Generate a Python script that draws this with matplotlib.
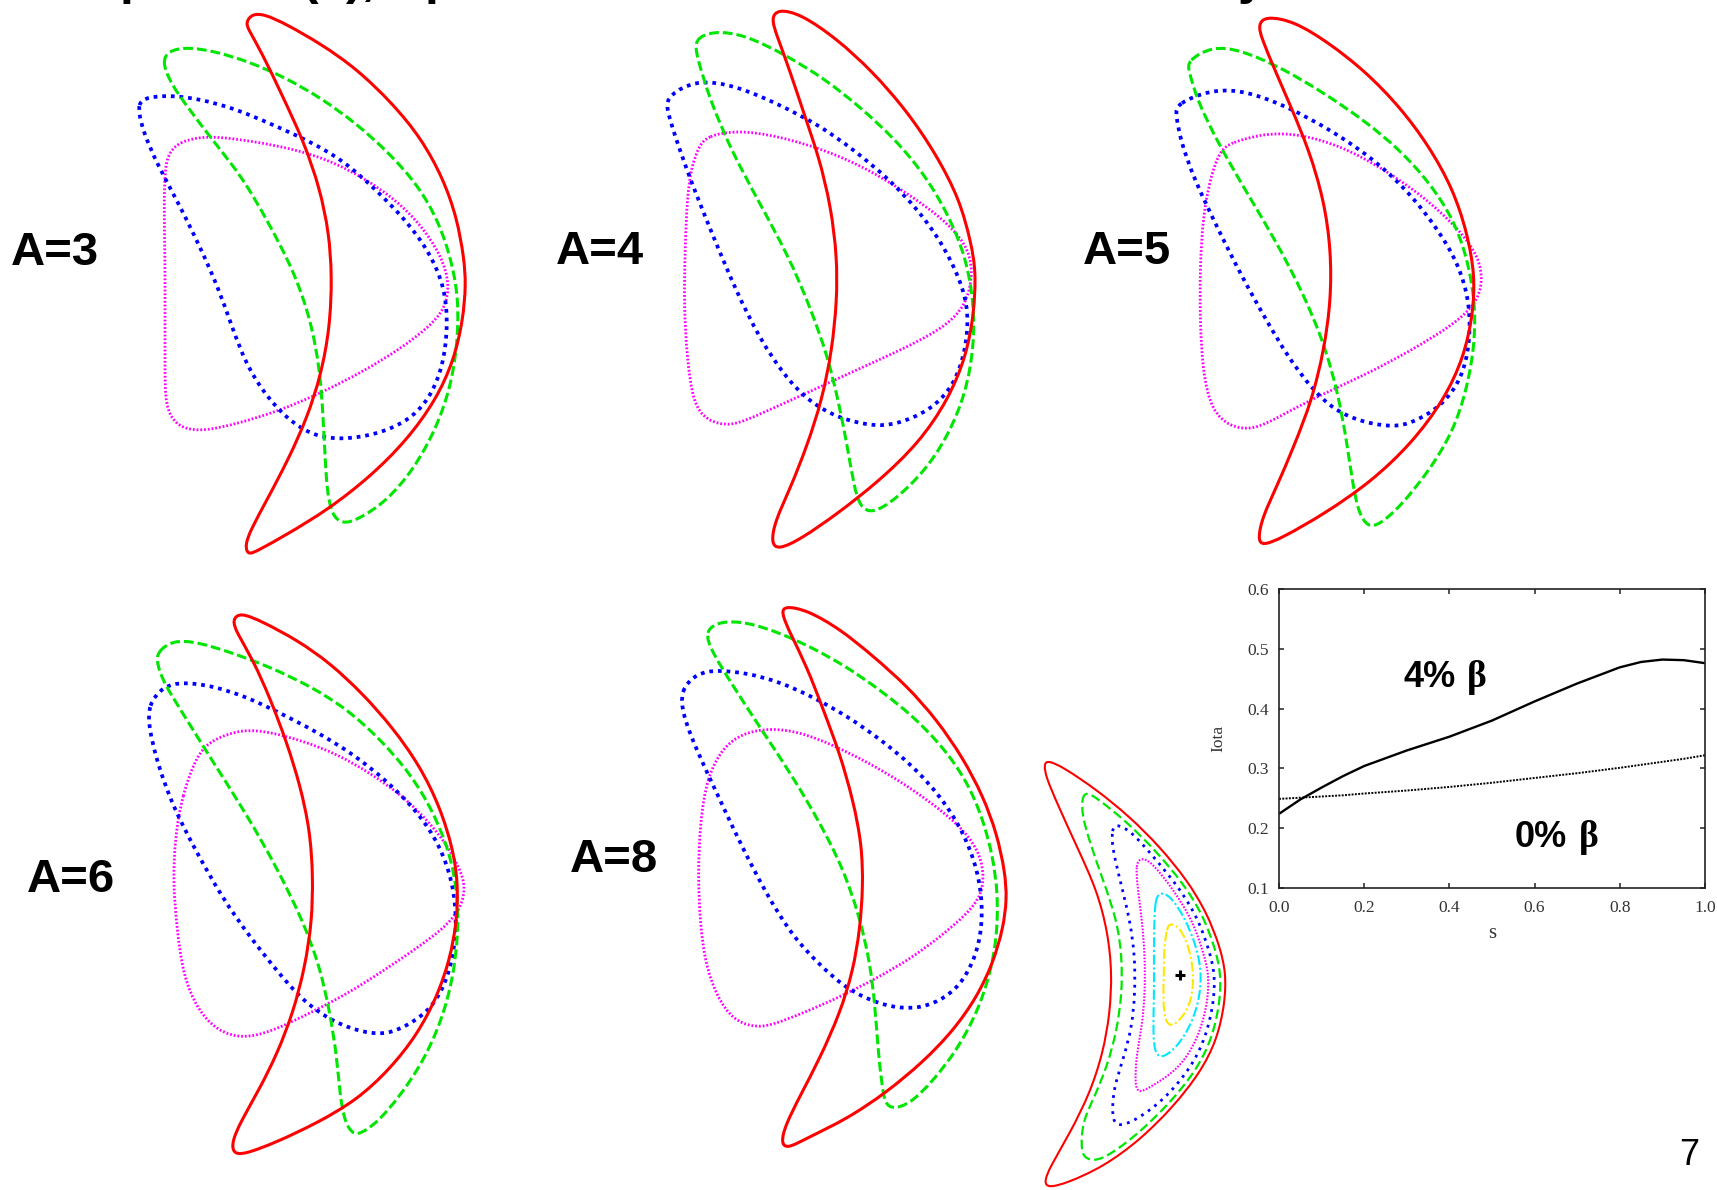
import matplotlib
matplotlib.use("Agg")
import matplotlib.pyplot as plt
from matplotlib.path import Path
from matplotlib.patches import PathPatch
import numpy as np

plt.rcParams['font.family'] = ['Liberation Sans', 'DejaVu Sans']

W, H, DPI = 1717, 1190, 100

# ---------------- data: traced boundary cross-sections (R, Z), panel units ----------------
A3_red = [(-104,263),(-98,271),(-86,271),(-64,261),(-29,241),(7,216),(43,181),(71,147),(93,107),(107,67),(114,27),(116,1),(113,-35),(104,-75),(86,-115),(57,-155),(21,-191),(-21,-224),(-64,-250),(-93,-266),(-102,-270),(-105,-261),(-100,-246),(-82,-213),(-61,-173),(-43,-133),(-29,-90),(-20,-42),(-18,9),(-21,52),(-30,96),(-46,143),(-68,190),(-89,234),(-102,256)]
A3_green = [(-188,223),(-182,234),(-164,238),(-136,234),(-100,223),(-64,207),(-29,187),(7,161),(39,132),(68,100),(89,63),(102,23),(109,-17),(107,-64),(100,-104),(86,-144),(64,-184),(36,-217),(7,-235),(-7,-239),(-18,-231),(-23,-206),(-25,-170),(-27,-130),(-30,-86),(-39,-35),(-57,16),(-82,63),(-107,107),(-136,143),(-161,176),(-179,201)]
A3_blue = [(-211,180),(-207,187),(-182,190),(-150,186),(-114,176),(-79,161),(-43,145),(-7,125),(25,96),(54,67),(79,34),(95,-2),(98,-42),(93,-82),(79,-115),(57,-137),(25,-150),(-11,-155),(-39,-150),(-64,-133),(-86,-108),(-104,-79),(-118,-42),(-132,-2),(-150,38),(-171,81),(-193,121),(-207,154),(-211,172)]
A3_magenta = [(-171,143),(-150,148),(-129,148),(-93,143),(-57,136),(-21,125),(14,107),(46,85),(71,60),(91,30),(100,1),(95,-24),(79,-42),(50,-64),(14,-86),(-29,-108),(-71,-126),(-114,-139),(-146,-146),(-166,-144),(-179,-134),(-185,-115),(-185,-79),(-185,-28),(-185,30),(-186,81),(-185,118),(-181,132)]

A4_red = [(-59,262),(-52,271),(-29,266),(7,241),(42,209),(77,169),(106,126),(130,80),(141,37),(146,9),(144,-34),(136,-77),(118,-120),(89,-163),(48,-202),(7,-234),(-29,-259),(-52,-270),(-59,-263),(-55,-241),(-40,-209),(-23,-166),(-8,-120),(2,-70),(7,-20),(7,23),(1,73),(-11,123),(-26,166),(-40,209),(-53,244)]
A4_green = [(-136,241),(-117,249),(-87,246),(-46,226),(-5,201),(30,173),(65,141),(95,105),(118,66),(136,23),(144,-24),(144,-66),(136,-113),(118,-156),(95,-191),(65,-220),(42,-234),(30,-227),(24,-206),(18,-170),(9,-124),(-2,-77),(-20,-27),(-41,23),(-70,76),(-99,130),(-120,180),(-133,223)]
A4_blue = [(-162,184),(-134,201),(-93,194),(-52,176),(-11,155),(24,130),(59,101),(89,69),(112,37),(130,1),(139,-31),(136,-70),(124,-106),(100,-131),(65,-145),(42,-146),(7,-138),(-23,-120),(-46,-95),(-70,-59),(-93,-13),(-117,44),(-140,101),(-155,144),(-164,173)]
A4_magenta = [(-123,144),(-93,150),(-52,144),(-5,130),(36,112),(77,87),(112,62),(136,37),(144,9),(136,-27),(112,-49),(71,-70),(24,-91),(-23,-113),(-70,-134),(-99,-147),(-123,-141),(-137,-124),(-143,-77),(-146,-27),(-145,30),(-143,80),(-139,112),(-131,134)]

A5_red = [(-52,260),(-45,269),(-16,264),(19,242),(55,214),(90,178),(119,139),(143,96),(157,53),(165,10),(163,-29),(154,-72),(134,-115),(102,-158),(61,-197),(14,-229),(-28,-253),(-48,-261),(-52,-254),(-48,-233),(-33,-201),(-16,-161),(2,-115),(14,-65),(21,-15),(21,35),(14,85),(-1,135),(-19,178),(-36,217),(-48,246)]
A5_green = [(-123,224),(-98,239),(-69,235),(-28,217),(14,192),(55,164),(90,135),(119,103),(143,67),(157,28),(165,-15),(165,-58),(157,-104),(143,-147),(119,-186),(90,-222),(69,-240),(58,-242),(49,-229),(43,-201),(37,-158),(28,-108),(14,-58),(-7,-8),(-33,42),(-63,92),(-92,142),(-113,185),(-121,214)]
A5_blue = [(-134,181),(-98,196),(-63,194),(-22,178),(19,156),(61,128),(96,96),(125,60),(149,21),(160,-19),(160,-58),(152,-94),(131,-122),(102,-138),(84,-142),(55,-138),(25,-126),(2,-104),(-22,-72),(-45,-33),(-69,10),(-92,56),(-116,106),(-130,146),(-134,171)]
A5_magenta = [(-80,142),(-45,152),(-10,151),(31,139),(72,117),(113,89),(149,56),(169,28),(173,3),(166,-19),(143,-40),(102,-65),(55,-90),(8,-111),(-33,-133),(-57,-145),(-80,-142),(-98,-126),(-107,-90),(-110,-36),(-110,17),(-107,71),(-98,114),(-89,135)]

A6_red = [(-68,240),(-60,248),(-37,238),(-3,220),(30,197),(63,166),(93,132),(120,94),(140,53),(153,11),(158,-23),(157,-61),(150,-99),(137,-137),(117,-175),(90,-209),(57,-240),(17,-263),(-23,-282),(-57,-295),(-67,-293),(-68,-282),(-60,-263),(-40,-228),(-23,-194),(-7,-153),(5,-107),(12,-61),(13,-16),(10,30),(0,75),(-13,117),(-30,162),(-47,200),(-63,227)]
A6_green = [(-143,208),(-127,220),(-103,218),(-70,208),(-30,193),(10,174),(47,151),(80,121),(110,87),(133,49),(150,7),(158,-35),(158,-77),(153,-118),(142,-160),(123,-202),(100,-236),(77,-263),(60,-274),(53,-274),(45,-263),(40,-236),(37,-198),(30,-153),(20,-107),(3,-61),(-23,-8),(-53,45),(-87,98),(-113,140),(-137,178),(-143,197)]
A6_blue = [(-152,155),(-137,174),(-117,178),(-87,174),(-53,163),(-20,147),(17,128),(53,106),(87,79),(117,49),(140,15),(153,-23),(157,-61),(153,-99),(143,-130),(127,-153),(103,-168),(83,-175),(57,-171),(30,-160),(3,-141),(-23,-111),(-50,-77),(-77,-39),(-103,7),(-127,53),(-143,98),(-151,132)]
A6_magenta = [(-118,64),(-103,106),(-87,121),(-57,131),(-30,128),(3,119),(37,106),(70,87),(103,64),(130,37),(150,11),(163,-16),(165,-31),(160,-50),(143,-69),(117,-88),(83,-111),(47,-134),(10,-153),(-27,-171),(-57,-179),(-83,-171),(-103,-149),(-117,-115),(-123,-69),(-127,-23),(-125,22)]

A8_red = [(-19,248),(-15,254),(7,250),(40,231),(73,204),(107,174),(137,140),(163,102),(183,64),(197,26),(205,-12),(207,-39),(203,-69),(193,-103),(177,-137),(153,-171),(123,-202),(87,-232),(47,-259),(7,-278),(-13,-289),(-19,-283),(-15,-266),(0,-236),(20,-198),(40,-153),(53,-111),(60,-69),(63,-27),(62,15),(53,60),(40,106),(23,151),(7,193),(-10,227)]
A8_green = [(-96,229),(-80,239),(-53,238),(-20,227),(13,212),(47,193),(80,170),(113,144),(143,113),(167,79),(183,41),(193,3),(198,-35),(197,-77),(190,-115),(177,-153),(157,-190),(133,-221),(110,-244),(93,-249),(85,-244),(82,-225),(78,-190),(75,-145),(70,-103),(60,-58),(43,-8),(20,37),(-7,83),(-37,128),(-67,174),(-88,208)]
A8_blue = [(-120,170),(-103,187),(-83,190),(-53,187),(-20,178),(13,163),(47,144),(80,121),(113,94),(140,64),(160,34),(175,-1),(182,-35),(182,-69),(175,-99),(160,-126),(140,-141),(117,-149),(90,-147),(67,-139),(43,-126),(20,-105),(-7,-77),(-33,-35),(-57,11),(-80,60),(-103,109),(-117,144)]
A8_magenta = [(-93,83),(-77,113),(-57,127),(-30,132),(0,128),(33,115),(67,98),(100,79),(133,56),(160,34),(178,11),(184,-12),(182,-35),(167,-54),(140,-77),(110,-99),(77,-118),(40,-137),(3,-153),(-30,-166),(-47,-167),(-67,-160),(-83,-137),(-95,-103),(-100,-61),(-102,-16),(-100,37)]

# nested flux surfaces of the 4% beta equilibrium (outer -> inner) and magnetic axis
N_red = [(-136,210),(-133,215),(-117,208),(-83,185),(-50,158),(-20,128),(7,95),(27,62),(40,28),(46,2),(45,-28),(37,-65),(20,-98),(-7,-132),(-40,-165),(-77,-192),(-113,-208),(-132,-213),(-136,-207),(-130,-192),(-110,-158),(-90,-118),(-77,-78),(-70,-38),(-68,2),(-72,42),(-83,85),(-103,128),(-123,172),(-134,198)]
N_green = [(-98,176),(-95,182),(-88,181),(-54,154),(-24,124),(3,92),(23,60),(35,27),(41,2),(40,-28),(32,-64),(16,-96),(-11,-129),(-44,-161),(-80,-187),(-94,-184),(-99,-177),(-98,-148),(-87,-125),(-73,-92),(-63,-55),(-58,-18),(-58,18),(-63,55),(-77,95),(-90,132),(-98,160)]
N_blue = [(-68,146),(-64,151),(-50,145),(-28,120),(-2,89),(18,57),(29,25),(35,2),(34,-27),(26,-62),(11,-93),(-16,-125),(-45,-146),(-63,-152),(-68,-143),(-67,-115),(-57,-85),(-48,-52),(-45,-18),(-45,18),(-50,55),(-60,95),(-68,128)]
N_magenta = [(-44,110),(-40,117),(-30,115),(-7,86),(13,54),(23,23),(29,2),(28,-26),(20,-58),(5,-86),(-13,-102),(-33,-114),(-42,-118),(-45,-109),(-44,-82),(-38,-52),(-35,-18),(-35,18),(-38,55),(-43,92)]
N_cyan = [(-25,74),(-21,83),(-10,80),(5,57),(16,30),(22,2),(19,-27),(10,-52),(-3,-72),(-17,-83),(-25,-80),(-27,-58),(-26,-25),(-26,8),(-26,45)]
N_yellow = [(-13,47),(-10,52),(0,48),(9,28),(14,2),(12,-25),(3,-42),(-8,-52),(-15,-47),(-17,-25),(-16,2),(-16,28)]
N_axis_R = [0]
N_axis_Z = [0]

# rotational transform profiles
s_vals = [0.0, 0.05, 0.1, 0.15, 0.2, 0.3, 0.4, 0.5, 0.6, 0.7, 0.8, 0.85, 0.9, 0.95, 1.0]
iota_4pct = [0.224, 0.248, 0.268, 0.287, 0.304, 0.330, 0.353, 0.380, 0.412, 0.442, 0.469, 0.478, 0.482, 0.481, 0.476]
iota_0pct = [0.249, 0.251, 0.253, 0.255, 0.258, 0.263, 0.269, 0.276, 0.284, 0.292, 0.301, 0.306, 0.311, 0.316, 0.322]
x_ticks = [0.0, 0.2, 0.4, 0.6, 0.8, 1.0]
x_tick_labels = ['0.0', '0.2', '0.4', '0.6', '0.8', '1.0']
y_ticks = [0.1, 0.2, 0.3, 0.4, 0.5, 0.6]
y_tick_labels = ['0.1', '0.2', '0.3', '0.4', '0.5', '0.6']

panel_labels = ['A=3', 'A=4', 'A=5', 'A=6', 'A=8']

# ---------------- styles / layout ----------------
STY = {
    'red':     dict(edgecolor='#ff0000', linewidth=2.2, linestyle='-'),
    'green':   dict(edgecolor='#00e600', linewidth=2.2, linestyle=(0, (3.2, 1.3))),
    'blue':    dict(edgecolor='#0000ff', linewidth=2.7, linestyle=(0, (1, 1.3))),
    'magenta': dict(edgecolor='#ff00ff', linewidth=2.0, linestyle=(0, (0.65, 0.7))),
}
NSTY = {
    'red':     dict(edgecolor='#ff0000', linewidth=1.5, linestyle='-'),
    'green':   dict(edgecolor='#00e600', linewidth=1.6, linestyle=(0, (4.3, 1.9))),
    'blue':    dict(edgecolor='#0000ff', linewidth=2.0, linestyle=(0, (1, 1.9))),
    'magenta': dict(edgecolor='#ff00ff', linewidth=1.5, linestyle=(0, (0.8, 0.75))),
    'cyan':    dict(edgecolor='#00e8ff', linewidth=1.5, linestyle=(0, (4.8, 1.3, 1, 1.3))),
    'yellow':  dict(edgecolor='#ffe800', linewidth=1.5, linestyle=(0, (4.8, 1.3, 1, 1.3))),
}

fig = plt.figure(figsize=(W / DPI, H / DPI), dpi=DPI)
fig.patch.set_facecolor('white')


def panel(cx, cy, hw, hh):
    ax = fig.add_axes([(cx - hw) / W, 1 - (cy + hh) / H, 2 * hw / W, 2 * hh / H])
    ax.set_xlim(-hw, hw)
    ax.set_ylim(-hh, hh)
    ax.axis('off')
    return ax


def smooth_closed(pts):
    """Closed uniform cubic B-spline over the traced points, drawn as Bezier segments."""
    P = np.asarray(pts, float)
    n = len(P)
    verts, codes = [], []
    for i in range(n):
        pm, p0, p1, p2 = P[i - 1], P[i], P[(i + 1) % n], P[(i + 2) % n]
        b0 = (pm + 4 * p0 + p1) / 6.0
        b1 = (2 * p0 + p1) / 3.0
        b2 = (p0 + 2 * p1) / 3.0
        b3 = (p0 + 4 * p1 + p2) / 6.0
        if i == 0:
            verts.append(b0)
            codes.append(Path.MOVETO)
        verts += [b1, b2, b3]
        codes += [Path.CURVE4] * 3
    return Path(verts, codes)


def draw(ax, pts, style):
    ax.add_patch(PathPatch(smooth_closed(pts), fill=False, clip_on=False,
                           capstyle='butt', joinstyle='round', **style))


panels = [
    ((350, 285), (A3_magenta, A3_blue, A3_green, A3_red)),
    ((830, 280), (A4_magenta, A4_blue, A4_green, A4_red)),
    ((1310, 285), (A5_magenta, A5_blue, A5_green, A5_red)),
    ((300, 860), (A6_magenta, A6_blue, A6_green, A6_red)),
    ((800, 860), (A8_magenta, A8_blue, A8_green, A8_red)),
]
for (cx, cy), curves in panels:
    ax = panel(cx, cy, 240, 300)
    for pts, key in zip(curves, ['magenta', 'blue', 'green', 'red']):
        draw(ax, pts, STY[key])

# panel labels (centre x, baseline y in pixels)
label_pos = [(55, 265), (600, 264), (1127, 264), (71, 892), (614, 872)]
for txt, (x, y) in zip(panel_labels, label_pos):
    fig.text(x / W, 1 - y / H, txt, fontsize=34, fontweight='bold',
             ha='center', va='baseline')

# nested surfaces
axn = panel(1180, 975, 150, 230)
for pts, key in zip([N_red, N_green, N_blue, N_magenta, N_cyan, N_yellow],
                    ['red', 'green', 'blue', 'magenta', 'cyan', 'yellow']):
    draw(axn, pts, NSTY[key])
axn.plot(N_axis_R, N_axis_Z, marker='+', color='black', markersize=7, mew=2.2,
         linestyle='none', clip_on=False)

# iota profile inset
axi = fig.add_axes([1279 / W, 1 - 888 / H, 426 / W, 299 / H])
axi.plot(s_vals, iota_4pct, color='black', lw=1.7, solid_capstyle='butt')
axi.plot(s_vals, iota_0pct, color='black', lw=1.4, linestyle=(0, (1, 0.7)))
axi.set_xlim(0, 1)
axi.set_ylim(0.1, 0.6)
axi.set_xticks(x_ticks)
axi.set_xticklabels(x_tick_labels)
axi.set_yticks(y_ticks)
axi.set_yticklabels(y_tick_labels)
axi.tick_params(direction='in', top=True, right=True, length=3.5, width=1.1,
                labelsize=12.5, labelcolor='#333333', color='#222222')
axi.tick_params(axis='x', pad=8.5)
axi.tick_params(axis='y', pad=7.5)
for lab in axi.get_xticklabels() + axi.get_yticklabels():
    lab.set_fontfamily(['Liberation Serif', 'DejaVu Serif'])
for sp in axi.spines.values():
    sp.set_linewidth(1.2)
    sp.set_color('#222222')

fig.text(1218 / W, 1 - 738 / H, 'Iota', rotation=90, fontsize=12.5, color='#333333',
         family=['Liberation Serif', 'DejaVu Serif'], ha='center', va='center')
fig.text(1492 / W, 1 - 933 / H, 's', fontsize=15, color='#333333',
         family=['Liberation Serif', 'DejaVu Serif'], ha='center', va='center')

# beta annotations
fig.text(1403 / W, 1 - 687 / H, '4%', fontsize=26, fontweight='bold', ha='left', va='baseline')
fig.text(1467 / W, 1 - 687 / H, 'β', fontsize=27, fontweight='bold', ha='left', va='baseline',
         family=['Liberation Serif', 'DejaVu Serif'])
fig.text(1515 / W, 1 - 847 / H, '0%', fontsize=26, fontweight='bold', ha='left', va='baseline')
fig.text(1579 / W, 1 - 847 / H, 'β', fontsize=27, fontweight='bold', ha='left', va='baseline',
         family=['Liberation Serif', 'DejaVu Serif'])

# page number
fig.text(1679 / W, 1 - 1165 / H, '7', fontsize=26, ha='left', va='baseline')

# title line cut off at the top edge (only descenders visible)
for txt, x in [('p', 120), ('(', 301), ('),', 346), ('p', 425), ('y', 1238)]:
    fig.text(x / W, 1 + 5.5 / H, txt, fontsize=36, fontweight='bold', ha='left', va='baseline')

fig.savefig('out.png', dpi=DPI)
